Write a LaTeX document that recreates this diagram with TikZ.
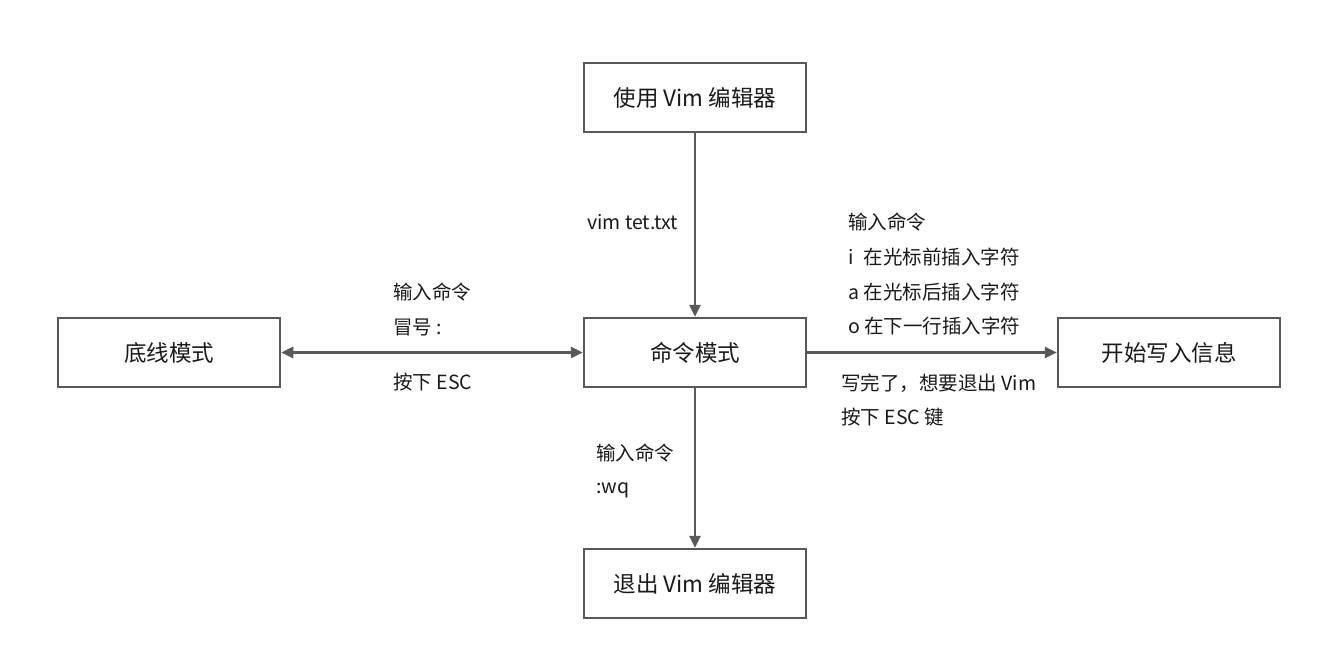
\documentclass[tikz,border=0pt]{standalone}
\usepackage{fontspec}
\setmainfont{Noto Sans CJK SC}
\usetikzlibrary{arrows.meta}
\definecolor{lc}{HTML}{595959}
\definecolor{tc}{HTML}{1A1A1A}
\begin{document}
\begin{tikzpicture}[x=1pt,y=-1pt,
  box/.style={draw=lc,line width=2.5pt,minimum width=222pt,minimum height=69pt,inner sep=0pt,font=\fontsize{22.5}{27}\selectfont,text=tc},
  lab/.style={anchor=west,inner sep=0pt,font=\fontsize{19.5}{23}\selectfont,text=tc},
  arr/.style={draw=lc,line width=2.7pt,-{Triangle[length=12pt,width=11pt]}},
  darr/.style={draw=lc,line width=2.7pt,{Triangle[length=12pt,width=11pt]}-{Triangle[length=12pt,width=11pt]}}]
\useasboundingbox[fill=white] (0,0) rectangle (1331,670);
\node[box] (top) at (695,97.5) {使用 Vim 编辑器};
\node[box] (cmd) at (695,352.5) {命令模式};
\node[box] (left) at (169,352.5) {底线模式};
\node[box] (right) at (1169,352.5) {开始写入信息};
\node[box] (exit) at (695,583.5) {退出 Vim 编辑器};
\draw[arr] (top) -- (cmd);
\draw[darr] (left) -- (cmd);
\draw[arr] (cmd) -- (right);
\draw[arr] (cmd) -- (exit);
\node[lab] (l1) at (587,222) {vim tet.txt};
\node[lab] (l2) at (393,292) {输入命令};
\node[lab] (l3) at (393,327) {冒号 :};
\node[lab] (l4) at (393,382) {按下 ESC};
\node[lab] (r1) at (848,222) {输入命令};
\node[lab] (r2) at (848,257) {i\hspace{6pt} 在光标前插入字符};
\node[lab] (r3) at (848,292) {a 在光标后插入字符};
\node[lab] (r4) at (848,326) {o 在下一行插入字符};
\node[lab] (r5) at (841,383) {写完了，想要退出 Vim};
\node[lab] (r6) at (841,417) {按下 ESC 键};
\node[lab] (b1) at (596,453) {输入命令};
\node[lab] (b2) at (596,490) {:wq};
\end{tikzpicture}
\end{document}
